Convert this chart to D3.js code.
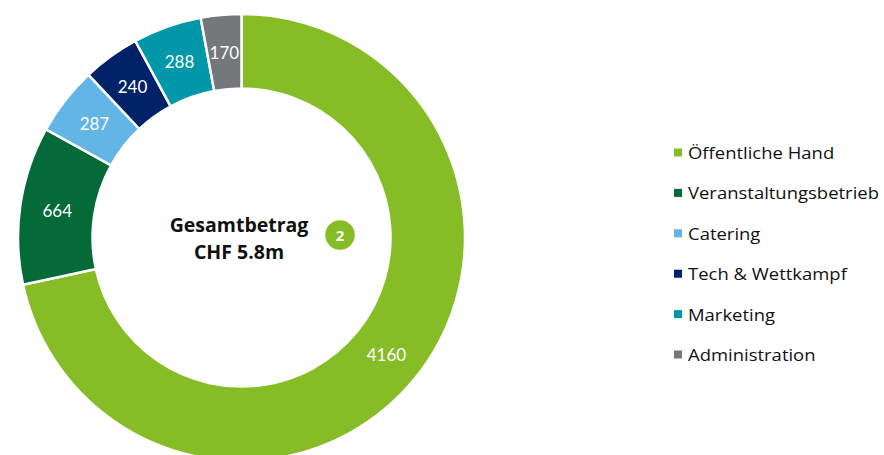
<!DOCTYPE html>
<html>
<head>
<meta charset="utf-8">
<script src="https://cdn.jsdelivr.net/npm/d3@7"></script>
<style>
  body { margin: 0; background: #fff; }
  svg { display: block; font-family: Lato, "Open Sans", sans-serif; }
</style>
</head>
<body>
<svg id="chart" width="884" height="455"></svg>
<script>
(function() {
  const categories = ["Öffentliche Hand", "Veranstaltungsbetrieb", "Catering", "Tech & Wettkampf", "Marketing", "Administration"];
  const values = [4160, 664, 287, 240, 288, 170];
  const colors = ["#86BC25", "#046A38", "#62B5E5", "#012169", "#0097A9", "#75787B"];
  const centerLines = ["Gesamtbetrag", "CHF 5.8m"];
  const badgeText = "2";

  const INK = "#111";
  const data = categories.map((c, i) => ({ name: c, value: values[i], color: colors[i] }));

  const svg = d3.select("#chart");

  const cx = 241.5, cy = 237.5;
  const outerR = 223.5, innerR = 149;

  const pie = d3.pie().value(d => d.value).sort(null);
  const arc = d3.arc().innerRadius(innerR).outerRadius(outerR);

  const g = svg.append("g").attr("transform", `translate(${cx},${cy})`);

  const arcs = pie(data);

  g.selectAll("path.slice")
    .data(arcs)
    .join("path")
    .attr("class", "slice")
    .attr("d", arc)
    .attr("fill", d => d.data.color)
    .attr("stroke", "#fff")
    .attr("stroke-width", 2.5);

  // Value labels
  g.selectAll("text.val")
    .data(arcs)
    .join("text")
    .attr("class", "val")
    .attr("x", d => arc.centroid(d)[0])
    .attr("y", d => arc.centroid(d)[1])
    .attr("text-anchor", "middle")
    .attr("dominant-baseline", "central")
    .attr("font-size", 17)
    .attr("fill", "#fff")
    .text(d => d.data.value);

  // Centre text
  g.selectAll("text.center")
    .data(centerLines)
    .join("text")
    .attr("class", "center")
    .attr("x", -2.5)
    .attr("y", (d, i) => -13 + i * 27)
    .attr("text-anchor", "middle")
    .attr("dominant-baseline", "central")
    .attr("font-family", "'Open Sans', sans-serif")
    .attr("font-size", 19.5)
    .attr("font-weight", "bold")
    .attr("fill", INK)
    .text(d => d);

  g.append("circle")
    .attr("cx", 98.5)
    .attr("cy", -2.5)
    .attr("r", 14.7)
    .attr("fill", "#86BC25");
  g.append("text")
    .attr("x", 98.5)
    .attr("y", -2.5)
    .attr("text-anchor", "middle")
    .attr("dominant-baseline", "central")
    .attr("font-family", "'Open Sans', sans-serif")
    .attr("font-size", 15)
    .attr("font-weight", "bold")
    .attr("fill", "#fff")
    .text(badgeText);

  // Legend
  const ly = d3.scaleBand()
    .domain(categories)
    .range([132.3, 374.7]);

  const legend = svg.append("g").attr("transform", "translate(674,0)");
  const items = legend.selectAll("g.item")
    .data(data)
    .join("g")
    .attr("class", "item")
    .attr("transform", d => `translate(0,${ly(d.name) + ly.bandwidth() / 2})`);

  items.append("rect")
    .attr("x", 0)
    .attr("y", -4)
    .attr("width", 8)
    .attr("height", 8)
    .attr("fill", d => d.color);

  // reference font is wider than Open Sans, stretch a bit
  items.append("text")
    .attr("transform", "translate(14,0) scale(1.12,1)")
    .attr("dominant-baseline", "central")
    .attr("font-family", "'Open Sans', sans-serif")
    .attr("font-size", 16.5)
    .attr("fill", INK)
    .text(d => d.name);
})();
</script>
</body>
</html>
